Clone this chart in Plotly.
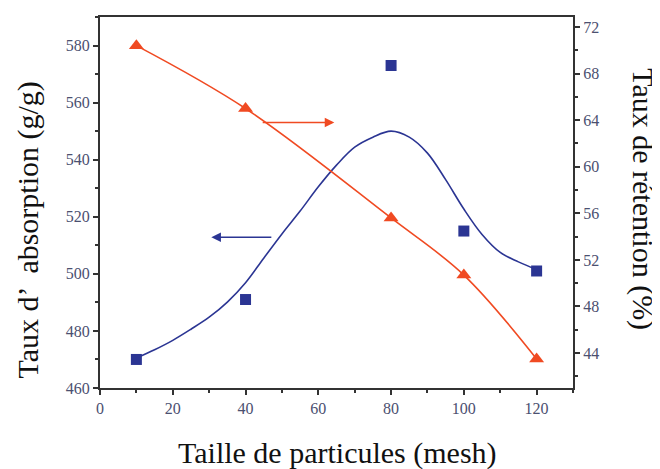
import plotly.graph_objects as go

# Data
mesh = [10, 40, 80, 100, 120]
absorption = [470, 491, 573, 515, 501]          # left axis (g/g)
retention = [70.4, 65.0, 55.6, 50.7, 43.5]       # right axis (%)

# Fitted curve for absorption
fit_x = [10, 15, 20, 25, 30, 35, 40, 45, 50, 55, 60, 65, 70, 75, 80, 85, 90, 95, 100, 105, 110, 115, 120]
fit_y = [470.5, 473.4, 476.7, 480.6, 484.8, 490.1, 496.9, 505.5, 514.0, 522.0, 530.5, 538.1, 544.4, 547.9,
         550.0, 547.9, 542.3, 533.0, 522.7, 513.8, 507.5, 504.2, 501.5]

x_ticks = [0, 20, 40, 60, 80, 100, 120]
left_ticks = [460, 480, 500, 520, 540, 560, 580]
right_ticks = [44, 48, 52, 56, 60, 64, 68, 72]

BLUE = "#2b3593"
RED = "#f04a22"
AXC = "#333333"
TICKC = "#4b5070"
FONT = "Liberation Serif"

fig = go.Figure()

fig.add_trace(go.Scatter(x=fit_x, y=fit_y, mode="lines", line=dict(color=BLUE, width=1.6, shape="spline", smoothing=1),
                         showlegend=False, hoverinfo="skip"))
fig.add_trace(go.Scatter(x=mesh, y=absorption, mode="markers",
                         marker=dict(symbol="square", size=11, color=BLUE), showlegend=False))
fig.add_trace(go.Scatter(x=mesh, y=retention, mode="lines+markers", yaxis="y2",
                         line=dict(color=RED, width=1.6, shape="spline"),
                         marker=dict(symbol="triangle-up", size=13, color=RED), showlegend=False))

axis_common = dict(showline=True, linecolor=AXC, linewidth=2, ticks="outside", ticklen=5, tickwidth=1.5,
                   tickcolor=AXC, showgrid=False, zeroline=False,
                   tickfont=dict(family=FONT, size=16, color=TICKC))

fig.update_layout(
    width=660, height=469,
    margin=dict(l=92, r=95, t=7, b=89),
    paper_bgcolor="white", plot_bgcolor="white",
    xaxis=dict(range=[0, 130], tickvals=x_ticks, mirror=True,
               minor=dict(ticks="outside", ticklen=3, dtick=10, tick0=0, tickcolor=AXC), **axis_common),
    yaxis=dict(range=[460, 590], tickvals=left_ticks,
               minor=dict(ticks="outside", ticklen=3, dtick=10, tick0=460, tickcolor=AXC), **axis_common),
    yaxis2=dict(range=[41, 72.86], tickvals=right_ticks, overlaying="y", side="right",
                minor=dict(ticks="outside", ticklen=3, dtick=2, tick0=40, tickcolor=AXC), **axis_common),
)

# Arrows
fig.add_annotation(x=30.6, y=512.8, ax=47.5, ay=512.8, xref="x", yref="y", axref="x", ayref="y",
                   showarrow=True, arrowhead=2, arrowsize=1.2, arrowwidth=1.6, arrowcolor=BLUE, text="")
fig.add_annotation(x=64.4, y=63.8, ax=44.3, ay=63.8, xref="x", yref="y2", axref="x", ayref="y2",
                   showarrow=True, arrowhead=2, arrowsize=1.2, arrowwidth=1.6, arrowcolor=RED, text="")

# Axis titles
fig.add_annotation(text="Taille de particules (mesh)", xref="paper", yref="paper", x=0.503, y=-0.174,
                   xanchor="center", yanchor="middle", showarrow=False,
                   font=dict(family=FONT, size=30, color="#111"))
fig.add_annotation(text="Taux d’  absorption (g/g)", xref="paper", yref="paper", x=-0.152, y=0.425,
                   xanchor="center", yanchor="middle", textangle=-90, showarrow=False,
                   font=dict(family=FONT, size=30, color="#111"))
fig.add_annotation(text="Taux de rétention (%)", xref="paper", yref="paper", x=1.148, y=0.509,
                   xanchor="center", yanchor="middle", textangle=90, showarrow=False,
                   font=dict(family=FONT, size=30, color="#111"))

fig.write_html("out.html")
